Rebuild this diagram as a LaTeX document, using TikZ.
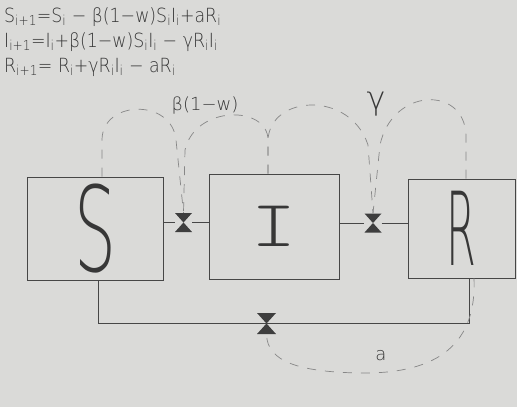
\documentclass[tikz,border=0pt]{standalone}
\usepackage{fontspec}
\usepackage{graphicx}
\newfontfamily\thinfont{DejaVu Sans ExtraLight}
\newfontfamily\monofont{Latin Modern Mono Light}
\definecolor{paper}{RGB}{218,218,216}
\definecolor{pencil}{RGB}{70,70,70}
\definecolor{inkc}{RGB}{55,55,55}
\definecolor{dashc}{RGB}{135,135,135}
\definecolor{valvec}{RGB}{62,62,62}
\tikzset{
  stock/.style={draw=pencil, line width=0.9pt, inner sep=0pt},
  flow/.style={draw=pencil, line width=0.8pt},
  info/.style={draw=dashc, line width=0.7pt, dash pattern=on 9pt off 9pt},
  valve/.style={minimum width=17pt, minimum height=19pt, inner sep=0pt,
    path picture={\fill[valvec] (path picture bounding box.north west) -- (path picture bounding box.north east) -- (path picture bounding box.south west) -- (path picture bounding box.south east) -- cycle;}},
  lbl/.style={text=inkc, inner sep=0pt, font=\thinfont\fontsize{18}{18}\selectfont},
}
\begin{document}
\begin{tikzpicture}[x=1pt,y=-1pt]
\fill[paper] (0,0) rectangle (517,407);
\useasboundingbox (0,0) rectangle (517,407);

\node[lbl, anchor=north west, align=left, font=\thinfont\fontsize{19.5}{25}\selectfont, xscale=0.89, transform shape] (eq) at (4,7)
 {S\textsubscript{i+1}=S\textsubscript{i} − β(1−w)S\textsubscript{i}I\textsubscript{i}+aR\textsubscript{i}\\
  I\textsubscript{i+1}=I\textsubscript{i}+β(1−w)S\textsubscript{i}I\textsubscript{i} − γR\textsubscript{i}I\textsubscript{i}\\
  R\textsubscript{i+1}= R\textsubscript{i}+γR\textsubscript{i}I\textsubscript{i} − aR\textsubscript{i}};

\node[stock, minimum width=136pt, minimum height=103pt] (S) at (95,228.5)
  {\textcolor{inkc}{\thinfont\fontsize{118}{118}\selectfont\scalebox{0.56}[1]{S}}};
\node[stock, minimum width=130pt, minimum height=105pt] (I) at (274,226.5)
  {\textcolor{inkc}{\monofont\fontsize{66}{66}\selectfont\scalebox{1.3}[1]{I}}};
\node[stock, minimum width=107pt, minimum height=99pt] (R) at (461.5,228.5)
  {\textcolor{inkc}{\thinfont\fontsize{102}{102}\selectfont\scalebox{0.42}[1]{R}}};

\node[valve] (v1) at (183.5,222.5) {};
\node[valve] (v2) at (373,223) {};
\node[valve, minimum width=19pt, minimum height=21pt] (v3) at (266.5,323.5) {};

\draw[flow] (S.east |- v1) -- (v1) -- (I.west |- v1);
\draw[flow] (I.east |- v2) -- (v2) -- (R.west |- v2);
\draw[flow] ([xshift=3pt]S.south) |- (v3.center) -| ([xshift=7.5pt]R.south);

\draw[info] ([xshift=7pt]S.north) -- (102,140) .. controls (102,100) and (172,98) .. (176,140) -- (v1.north);
\draw[info] ([xshift=-6pt]I.north) -- (268,140) .. controls (268,105) and (195,105) .. (185,150) -- (v1.north);
\draw[info] ([xshift=-6pt]I.north) -- (268,140) .. controls (270,95) and (350,90) .. (368,145) -- (v2.north);
\draw[info] ([xshift=4.5pt]R.north) -- (466,135) .. controls (464,85) and (392,88) .. (380,145) -- (v2.north);
\draw[info] ([xshift=12.5pt]R.south) .. controls (477,350) and (430,374) .. (360,373) .. controls (300,372) and (267,362) .. (v3.south);

\node[lbl] (lb) at (205,106) {β(1−w)};
\node[lbl, font=\thinfont\fontsize{32}{32}\selectfont] (lg) at (376,104) {γ};
\node[lbl] (la) at (381,356) {a};
\end{tikzpicture}
\end{document}
